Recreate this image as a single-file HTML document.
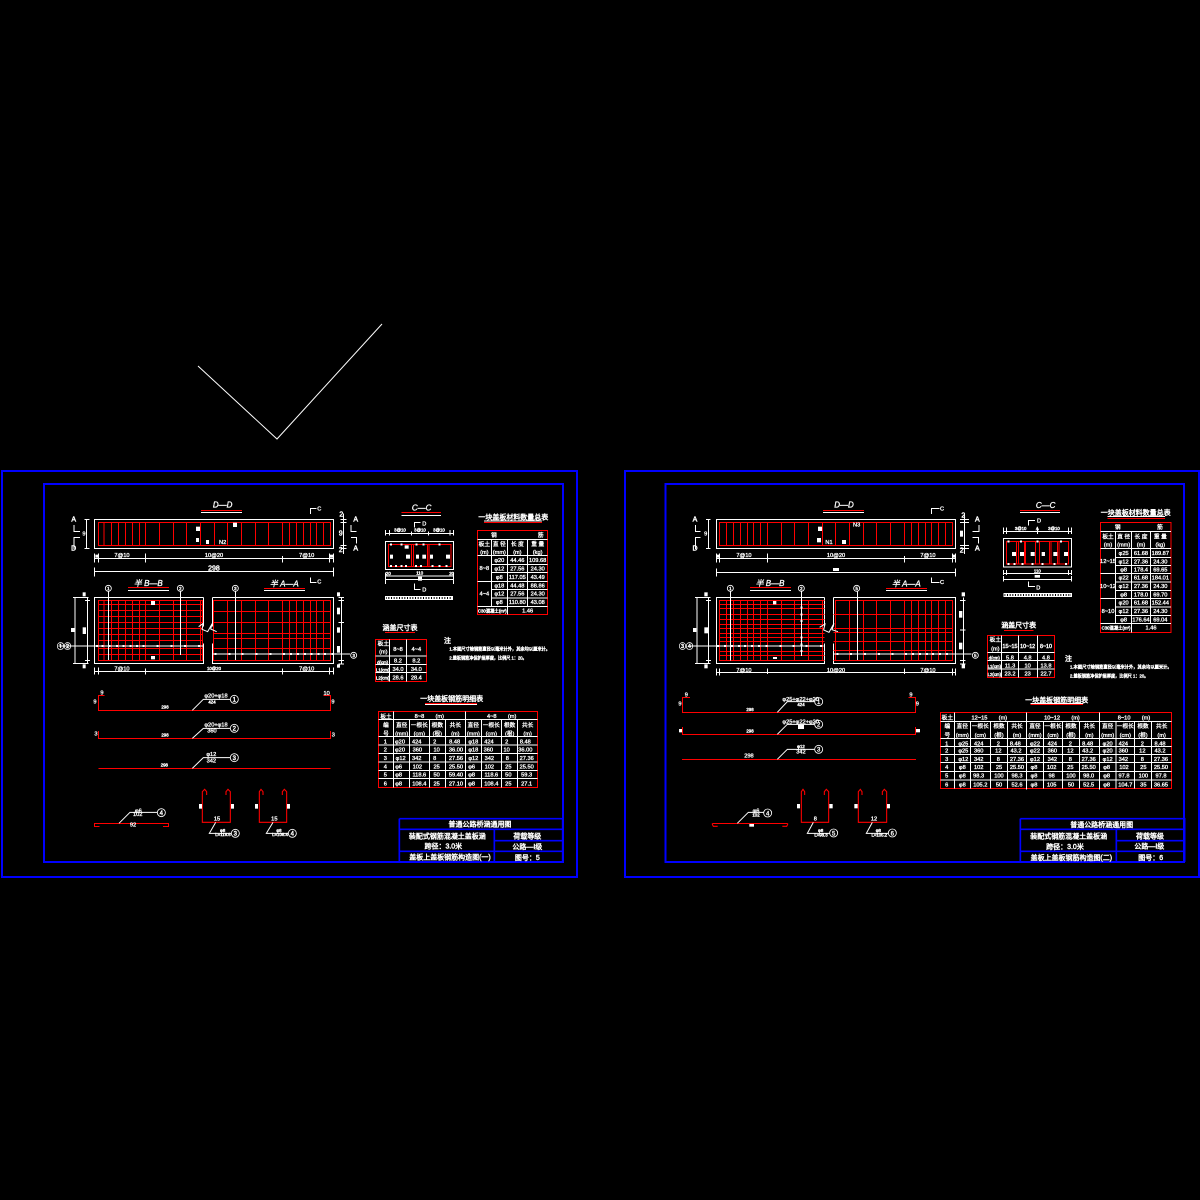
<!DOCTYPE html>
<html><head><meta charset="utf-8"><style>
html,body{margin:0;background:#000}
svg{display:block}
text{fill:#fff;stroke:#fff;stroke-width:.9;text-anchor:middle;font-family:"Liberation Sans","Noto Sans CJK SC",sans-serif;font-size:17px}
.s{font-size:13px;stroke-width:1.2}
.h{font-size:21px;stroke-width:1.3}
.i{font-style:italic;font-size:24px;font-family:"Liberation Sans",sans-serif}
.l{text-anchor:start}
.n{font-size:13px;stroke-width:1.3}
.w,.r{fill:none;shape-rendering:crispEdges;vector-effect:non-scaling-stroke;stroke-width:1}
.w{stroke:#fff}
.r{stroke:#f00}
.a{fill:none;stroke:#fff;stroke-width:3}
.p{fill:none;stroke:#f00;stroke-width:3.2}
.c{fill:#000;stroke:#fff;stroke-width:2.6}
</style></head><body>
<svg width="1200" height="1200" viewBox="0 0 1200 1200" xmlns="http://www.w3.org/2000/svg">
<rect width="1200" height="1200" fill="#000"/>
<path d="M198 366L277 439L382 324" fill="none" stroke="#fff" stroke-width="1"/>
<g fill="none" stroke="#00f" stroke-width="2" shape-rendering="crispEdges">
<rect x="2" y="471" width="575" height="406"/><rect x="44" y="484" width="519" height="378"/>
<rect x="625" y="471" width="574" height="406"/><rect x="665.5" y="484" width="518.5" height="378"/>
</g>

<!-- LEFT drawings -->
<g transform="translate(40 480) scale(.33333)">
<text class="i" x="548" y="83">D—D</text><path class="r" d="M483 91H606"/><path class="w" d="M483 97H606"/>
<path class="w" d="M811 102V86H830M811 292V308H830M102 135V155H120M102 207V172H120M950 155H933V135M933 172H950V190"/>
<text x="838" y="92">C</text><text x="838" y="310">C</text><text x="101" y="124" class="h">A</text><text x="101" y="212" class="h">D</text><text x="947" y="124" class="h">A</text><text x="947" y="212" class="h">A</text>
<rect class="w" x="163" y="118" width="718" height="88"/>
<path class="r" d="M175 127H872V196H175ZM192 127V196M214 127V196M235 127V196M256 127V196M277 127V196M298 127V196M316 127V196M358 127V196M400 127V196M439 127V196M481 127V196M523 127V196M562 127V196M604 127V196M646 127V196M685 127V196M727 127V196M748 127V196M769 127V196M790 127V196M811 127V196M829 127V196M850 127V196"/>
<rect x="468" y="140" width="12" height="13" fill="#fff"/><rect x="468" y="174" width="9" height="12" fill="#fff"/><rect x="579" y="128" width="12" height="13" fill="#fff"/><rect x="498" y="180" width="9" height="12" fill="#fff"/><text x="548" y="192">N2</text>
<path class="w" d="M140 118V206M133 118H148M133 206H148M910 100V222M902 118H920M902 127H920M902 196H920M902 206H920"/>
<text x="132" y="167">9</text><text x="904" y="110" class="h">2</text><text x="902" y="166" class="h">9</text><text x="902" y="216" class="h">2</text>
<path class="w" d="M163 235H881M163 220V248M175 220V248M316 220V248M727 228V248M869 220V248M881 220V248M163 274H881M163 263V290M881 263V290"/>
<text x="246" y="231">7@10</text><text x="522" y="231">10@20</text><text x="800" y="231">7@10</text><text x="522" y="271" class="h">298</text><rect x="166" y="224" width="10" height="9" fill="#fff"/><rect x="870" y="224" width="10" height="9" fill="#fff"/>
<text class="i" x="325" y="318">半 B—B</text><path class="r" d="M264 322H387"/><path class="w" d="M264 331H387"/>
<text class="i" x="733" y="319">半 A—A</text><path class="r" d="M672 325H795"/><path class="w" d="M672 331H795"/>
<path class="w" d="M491 352H163V550H491V490M491 352V440M517 352H881V550H517V490M517 352V440"/>
<path class="r" d="M487 361H175V541H487ZM192 361V541M214 361V541M235 361V541M256 361V541M277 361V541M298 361V541M316 361V541M358 361V541M400 361V541M439 361V541M481 361V541M175 373H487M175 391H487M175 409H487M175 427H487M175 445H487M175 463H487M175 481H487M175 505H487M175 523H487"/>
<path class="r" d="M521 361H872V541H521ZM562 361V541M604 361V541M646 361V541M685 361V541M727 361V541M748 361V541M769 361V541M790 361V541M811 361V541M829 361V541M850 361V541M521 394H872M521 427H872M521 460H872M521 475H872M521 505H872"/>
<path class="a" d="M476 440L490 430L486 448L503 455L517 430L512 447L530 455"/>
<path class="w" d="M55 498H490M517 522H930M205 330V540M421 330V525M586 330V540"/>
<path d="M168 498h6M185 498h6M206 498h6M228 498h6M248 498h6M269 498h6M288 498h6M308 498h6M350 498h6M392 498h6M432 498h6M474 498h6M524 522h6M566 522h6M605 522h6M647 522h6M689 522h6M729 522h6M750 522h6M771 522h6M792 522h6M812 522h6M832 522h6M852 522h6M874 522h6" stroke="#fff" stroke-width="7" fill="none" shape-rendering="crispEdges"/>
<circle class="c" cx="205" cy="325" r="9"/><circle class="c" cx="421" cy="325" r="9"/><circle class="c" cx="586" cy="325" r="9"/><circle class="c" cx="941" cy="526" r="9"/>
<text x="205" y="330" class="s">1</text><text x="421" y="330" class="s">2</text><text x="586" y="330" class="s">3</text><text x="941" y="531" class="s">3</text>
<text x="72" y="506" class="h">①②</text>
<rect x="333" y="363" width="12" height="12" fill="#fff"/><rect x="333" y="528" width="12" height="10" fill="#fff"/><rect x="93" y="444" width="13" height="12" fill="#fff"/><rect x="128" y="442" width="10" height="20" fill="#fff"/>
<path class="w" d="M105 352V550M99 352H145M99 550H145M142 352V550M135 361H150M135 541H150M904 352V552M896 352H912M896 361H912M896 427H912M896 541H912M896 552H912"/>
<rect x="128" y="337" width="9" height="12" fill="#fff"/><rect x="128" y="553" width="9" height="12" fill="#fff"/><rect x="891" y="337" width="9" height="12" fill="#fff"/><rect x="891" y="383" width="9" height="20" fill="#fff"/><rect x="891" y="442" width="9" height="16" fill="#fff"/><rect x="891" y="498" width="9" height="20" fill="#fff"/><rect x="891" y="553" width="9" height="10" fill="#fff"/>
<path class="w" d="M163 574H881M163 562V584M175 562V584M316 565V584M727 565V584M869 562V584M881 562V584"/>
<text x="246" y="572">7@10</text><text x="522" y="570" class="s">10@20</text><text x="800" y="572">7@10</text>
</g>
<g transform="translate(370 490) scale(.33333)">
<text class="i" x="155" y="61">C—C</text><path class="r" d="M94 67H213"/><path class="w" d="M94 76H213"/>
<path class="w" d="M133 113V97H152M133 280V298H152"/><text x="163" y="107">D</text><text x="163" y="304">D</text>
<path class="w" d="M46 130H251M46 120V137M58 120V137M124 125V137M175 125V137M240 120V137M251 120V137"/><text x="90" y="125" class="s">3@10</text><text x="150" y="125" class="s">3@10</text><text x="207" y="125" class="s">3@10</text>
<rect class="w" x="46" y="154" width="205" height="84"/>
<path class="r" d="M55 163H243V230H55ZM125 163V230M130 163V230M172 163V230M177 163V230"/>
<path d="M60 163h6M92 163h6M136 163h6M158 163h6M205 163h6M60 228h6M75 228h6M92 228h6M105 228h6M135 228h6M150 228h6M185 228h6M205 228h6M226 228h6" stroke="#fff" stroke-width="6" fill="none" shape-rendering="crispEdges"/>
<rect x="60" y="194" width="9" height="12" fill="#fff"/><rect x="108" y="194" width="12" height="12" fill="#fff"/><rect x="138" y="194" width="9" height="12" fill="#fff"/><rect x="157" y="194" width="11" height="12" fill="#fff"/><rect x="180" y="194" width="9" height="12" fill="#fff"/><rect x="228" y="194" width="12" height="12" fill="#fff"/><rect x="104" y="166" width="12" height="10" fill="#fff"/>
<path class="w" d="M46 258H251M46 248V282M251 248V282M46 269H251"/><text x="149" y="254" class="s">110</text><rect x="144" y="260" width="12" height="12" fill="#fff"/><text x="55" y="255" class="s">20</text><text x="245" y="255" class="s">20</text>
<rect class="w" x="46" y="319" width="202" height="10"/><path d="M50 324H246" stroke="#fff" stroke-width="10" stroke-dasharray="5 3" fill="none"/>
<text x="430" y="88" class="h">一块盖板材料数量总表</text><path class="r" d="M342 98H516"/><path class="w" d="M342 93H516"/>
<path class="r" d="M322 121H533V374H322Z"/>
<path class="w" d="M322 148H533M322 197H533M364 223H533M364 248H533M322 274H533M364 299H533M364 324H533M322 349H533M364 148V349M412 148V374M473 148V349"/>
<text x="372" y="141">钢</text><text x="512" y="141">筋</text>
<text x="343" y="168">板土</text><text x="388" y="168">直 径</text><text x="442" y="168">长 度</text><text x="503" y="168">重 量</text>
<text x="343" y="192">(m)</text><text x="388" y="192">(mm)</text><text x="442" y="192">(m)</text><text x="503" y="192">(kg)</text>
<text x="343" y="240">8~8</text><text x="343" y="316">4~4</text>
<text x="388" y="216">φ20</text><text x="442" y="216">44.46</text><text x="503" y="216">109.68</text>
<text x="388" y="241">φ12</text><text x="442" y="241">27.56</text><text x="503" y="241">24.30</text>
<text x="388" y="267">φ8</text><text x="442" y="267">117.05</text><text x="503" y="267">43.49</text>
<text x="388" y="292">φ18</text><text x="442" y="292">44.48</text><text x="503" y="292">88.86</text>
<text x="388" y="317">φ12</text><text x="442" y="317">27.56</text><text x="503" y="317">24.30</text>
<text x="388" y="342">φ8</text><text x="442" y="342">110.80</text><text x="503" y="342">43.08</text>
<text x="367" y="367" class="s">C30混凝土(m³)</text><text x="473" y="367">1.46</text>
<text x="90" y="420" class="h">涵盖尺寸表</text><path class="r" d="M45 428H135"/>
<path class="r" d="M16 448H170V575H16Z"/><path class="w" d="M16 498H170M16 523H170M16 548H170M59 448V575M109 448V575"/>
<text x="40" y="466">板土</text><text x="40" y="491">(m)</text><text x="84" y="483">8~8</text><text x="139" y="483">4~4</text>
<text x="38" y="522" class="s">d(cm)</text><text x="84" y="518">8.2</text><text x="139" y="518">8.2</text>
<text x="38" y="545" class="s">L1(cm)</text><text x="84" y="543">34.0</text><text x="139" y="543">34.0</text>
<text x="38" y="569" class="s">L2(cm)</text><text x="84" y="568">28.6</text><text x="139" y="568">28.4</text>
<text class="l h" x="222" y="459">注</text>
<text class="l n" x="238" y="481" textLength="302" lengthAdjust="spacingAndGlyphs">1.本图尺寸除钢筋直径以毫米计外，其余均以厘米计。</text>
<text class="l n" x="238" y="508" textLength="232" lengthAdjust="spacingAndGlyphs">2.盖板钢筋净保护层厚度，比例尺 1：20。</text>
</g>
<g transform="translate(40 680) scale(.33333)">
<path class="r" d="M193 46H175V91H872V46H850M175 153V175H872V153M175 265H872M179 439H163V430H385V439H369"/>
<path class="p" d="M500 345V335L494 328L487 335V427H571V335L564 328L558 335V345M669 345V335L663 328L658 335V427H740V335L733 328L727 335V345"/>
<path class="a" d="M457 91L490 58H570M457 175L490 145H570M457 265L490 233H570M237 430L270 397H352M527 427L508 460H574M699 427L679 460H745"/>
<circle class="c" cx="583" cy="58" r="12"/><circle class="c" cx="583" cy="145" r="12"/><circle class="c" cx="583" cy="233" r="12"/><circle class="c" cx="364" cy="398" r="12"/><circle class="c" cx="586" cy="460" r="12"/><circle class="c" cx="757" cy="460" r="12"/>
<text x="583" y="65" class="s" style="font-size:18px">1</text><text x="583" y="152" class="s" style="font-size:18px">2</text><text x="583" y="240" class="s" style="font-size:18px">3</text><text x="364" y="405" class="s" style="font-size:18px">4</text><text x="586" y="467" class="s" style="font-size:18px">3</text><text x="757" y="467" class="s" style="font-size:18px">4</text>
<text x="528" y="53">φ20+φ18</text><text x="516" y="71" class="s">424</text><text x="528" y="140">φ20+φ18</text><text x="516" y="157">360</text><text x="514" y="228">φ12</text><text x="514" y="247">342</text>
<text x="375" y="86" class="s">298</text><text x="375" y="170" class="s">298</text><text x="373" y="260" class="s">298</text>
<text x="186" y="43">9</text><text x="165" y="71">9</text><text x="860" y="45">10</text><text x="879" y="71">9</text><text x="168" y="166">3</text><text x="880" y="169">3</text>
<text x="295" y="398">φ6</text><text x="293" y="408">102</text><text x="279" y="440">92</text>
<rect x="477" y="372" width="9" height="14" fill="#fff"/><rect x="573" y="372" width="9" height="14" fill="#fff"/><rect x="645" y="372" width="9" height="14" fill="#fff"/><rect x="741" y="372" width="9" height="14" fill="#fff"/>
<text x="531" y="422">15</text><text x="703" y="422">15</text><text x="548" y="456" class="s">φ8</text><text x="549" y="468" class="s">L=118.6</text><text x="717" y="456" class="s">φ8</text><text x="720" y="468" class="s">L=108.4</text>
</g>
<g transform="translate(370 690) scale(.33333)">
<text x="245" y="33" class="h">一块盖板钢筋明细表</text><path class="r" d="M165 40H321"/><path class="w" d="M165 44H321"/>
<path class="r" d="M25 65H503V293H25Z"/>
<path class="w" d="M25 88H503M25 140H503M25 165H503M25 191H503M25 216H503M25 241H503M25 266H503M71 65V293M287 65V293M119 88V293M178 88V293M226 88V293M334 88V293M395 88V293M443 88V293"/>
<text x="48" y="85">板土</text><text x="178" y="84">8~8　　(m)</text><text x="395" y="84">4~8　　(m)</text>
<text x="48" y="111">编</text><text x="48" y="136">号</text>
<text x="95" y="111">直径</text><text x="148" y="111">一根长</text><text x="202" y="111">根数</text><text x="256" y="111">共长</text><text x="310" y="111">直径</text><text x="364" y="111">一根长</text><text x="419" y="111">根数</text><text x="473" y="111">共长</text>
<text x="95" y="136">(mm)</text><text x="148" y="136">(cm)</text><text x="202" y="136">(根)</text><text x="256" y="136">(m)</text><text x="310" y="136">(mm)</text><text x="364" y="136">(cm)</text><text x="419" y="136">(根)</text><text x="473" y="136">(m)</text>
<text x="46" y="160">1</text><text x="90" y="160">φ20</text><text x="140" y="160">424</text><text x="194" y="160">2</text><text x="254" y="160">8.48</text><text x="310" y="160">φ18</text><text x="357" y="160">424</text><text x="410" y="160">2</text><text x="466" y="160">8.48</text>
<text x="46" y="185">2</text><text x="90" y="185">φ20</text><text x="142" y="185">360</text><text x="200" y="185">10</text><text x="258" y="185">36.00</text><text x="310" y="185">φ18</text><text x="355" y="185">360</text><text x="410" y="185">10</text><text x="466" y="185">36.00</text>
<text x="46" y="210">3</text><text x="92" y="210">φ12</text><text x="140" y="210">342</text><text x="194" y="210">8</text><text x="258" y="210">27.56</text><text x="310" y="210">φ12</text><text x="358" y="210">342</text><text x="412" y="210">8</text><text x="470" y="210">27.36</text>
<text x="46" y="235">4</text><text x="86" y="235">φ6</text><text x="142" y="235">102</text><text x="200" y="235">25</text><text x="258" y="235">25.50</text><text x="305" y="235">φ6</text><text x="358" y="235">102</text><text x="415" y="235">25</text><text x="470" y="235">25.50</text>
<text x="46" y="260">5</text><text x="86" y="260">φ8</text><text x="148" y="260">118.6</text><text x="200" y="260">50</text><text x="258" y="260">59.40</text><text x="305" y="260">φ8</text><text x="364" y="260">118.6</text><text x="415" y="260">50</text><text x="470" y="260">59.3</text>
<text x="46" y="286">6</text><text x="86" y="286">φ8</text><text x="148" y="286">108.4</text><text x="200" y="286">25</text><text x="258" y="286">27.10</text><text x="305" y="286">φ8</text><text x="364" y="286">108.4</text><text x="415" y="286">25</text><text x="470" y="286">27.1</text>
<path d="M88 386H578V516M88 386V516M88 418H578M88 484H578M373 418V516M373 452H578" fill="none" stroke="#00f" stroke-width="5"/>
<text x="330" y="410" class="h">普通公路桥涵通用图</text><text x="232" y="445" class="h">装配式钢筋混凝土盖板涵</text><text x="472" y="445" class="h">荷载等级</text>
<text x="220" y="476" class="h">跨径：3.0米</text><text x="472" y="477" class="h">公路—I级</text><text x="240" y="509" class="h">盖板上盖板钢筋构造图(一)</text><text x="472" y="510" class="h">图号：5</text>
</g>

<!-- RIGHT drawings -->
<g transform="translate(660 480) scale(.33333)">
<text class="i" x="552" y="83">D—D</text><path class="r" d="M489 91H612"/><path class="w" d="M489 97H612"/>
<path class="w" d="M814 102V86H838M814 292V308H838M106 135V155H122M106 207V172H122M957 135V155H937M937 172H955V190"/>
<text x="846" y="92">C</text><text x="846" y="312">C</text><text x="105" y="124" class="h">A</text><text x="105" y="212" class="h">D</text><text x="952" y="124" class="h">A</text><text x="952" y="212" class="h">A</text>
<rect class="w" x="169" y="118" width="718" height="88"/>
<path class="r" d="M178 127H878V196H178ZM199 127V196M220 127V196M241 127V196M262 127V196M280 127V196M301 127V196M322 127V196M364 127V196M403 127V196M445 127V196M487 127V196M526 127V196M568 127V196M610 127V196M649 127V196M691 127V196M733 127V196M754 127V196M775 127V196M796 127V196M814 127V196M835 127V196M856 127V196"/>
<rect x="474" y="140" width="12" height="13" fill="#fff"/><rect x="471" y="174" width="12" height="13" fill="#fff"/><text x="590" y="140">N3</text><text x="507" y="192">N1</text><rect x="546" y="180" width="12" height="12" fill="#fff"/>
<path class="w" d="M146 118V206M138 118H152M138 206H152M913 100V222M900 118H927M900 127H927M900 196H927M900 206H927"/>
<text x="137" y="167">9</text><text x="910" y="113" class="h">2</text><rect x="900" y="152" width="9" height="18" fill="#fff"/><text x="905" y="218" class="h">2</text>
<path class="w" d="M169 235H887M169 220V248M178 220V248M322 220V248M733 228V248M878 220V248M887 220V248M169 277H887M169 266V290M887 266V290"/>
<text x="252" y="231">7@10</text><text x="528" y="231">10@20</text><text x="804" y="231">7@10</text><rect x="519" y="264" width="18" height="9" fill="#fff"/><rect x="171" y="224" width="8" height="9" fill="#fff"/><rect x="878" y="224" width="8" height="9" fill="#fff"/>
<text class="i" x="330" y="318">半 B—B</text><path class="r" d="M270 322H393"/><path class="w" d="M270 331H393"/>
<text class="i" x="739" y="319">半 A—A</text><path class="r" d="M678 325H801"/><path class="w" d="M678 331H801"/>
<path class="w" d="M494 352H169V550H494V490M494 352V440M520 352H887V550H520V490M520 352V440"/>
<path class="r" d="M494 361H178V541H494M199 361V541M220 361V541M241 361V541M262 361V541M280 361V541M301 361V541M322 361V541M364 361V541M403 361V541M445 361V541M487 361V541M178 373H494M178 385H494M178 403H494M178 418H494M178 433H494M178 445H494M178 460H494M178 472H494M178 484H494M178 514H494M178 526H494"/>
<path class="r" d="M526 361H878V541H526ZM568 361V541M610 361V541M649 361V541M691 361V541M733 361V541M754 361V541M775 361V541M796 361V541M814 361V541M835 361V541M856 361V541M520 403H878M520 445H878M520 457H878M520 484H878M520 511H878M520 541H878"/>
<path class="a" d="M479 442L495 432L491 450L507 457L522 430L516 449L534 455"/>
<path class="w" d="M90 498H490M520 522H935M211 330V542M424 330V528M592 330V540"/>
<path d="M171 498h6M192 498h6M213 498h6M234 498h6M252 498h6M273 498h6M294 498h6M316 498h6M358 498h6M397 498h6M437 498h6M480 498h6M530 522h6M570 522h6M612 522h6M654 522h6M695 522h6M735 522h6M756 522h6M777 522h6M798 522h6M816 522h6M837 522h6M858 522h6M424 380v6M424 400v6M424 420v6M424 470v6M424 490v6M424 510v6" stroke="#fff" stroke-width="6" fill="none" shape-rendering="crispEdges"/>
<circle class="c" cx="211" cy="325" r="9"/><circle class="c" cx="424" cy="325" r="9"/><circle class="c" cx="590" cy="325" r="9"/><circle class="c" cx="946" cy="526" r="9"/>
<text x="211" y="330" class="s">1</text><text x="424" y="330" class="s">2</text><text x="590" y="330" class="s">5</text><text x="946" y="531" class="s">5</text>
<text x="78" y="506" class="h">③④</text>
<rect x="339" y="363" width="10" height="10" fill="#fff"/><rect x="339" y="531" width="12" height="6" fill="#fff"/><rect x="99" y="444" width="10" height="12" fill="#fff"/><rect x="133" y="442" width="12" height="18" fill="#fff"/>
<path class="w" d="M111 352V550M105 352H152M105 550H152M146 352V550M138 361H153M138 541H153M910 352V552M900 361H916M900 450H916M900 541H916M900 552H916"/>
<rect x="133" y="337" width="10" height="12" fill="#fff"/><rect x="133" y="553" width="10" height="12" fill="#fff"/><rect x="905" y="337" width="10" height="12" fill="#fff"/><rect x="897" y="393" width="10" height="20" fill="#fff"/><rect x="897" y="488" width="10" height="20" fill="#fff"/><rect x="905" y="553" width="10" height="12" fill="#fff"/>
<path class="w" d="M169 577H887M169 565V586M178 565V586M322 565V582M733 565V582M878 565V586M887 565V586"/>
<text x="252" y="576">7@10</text><text x="528" y="576">10@20</text><text x="804" y="576">7@10</text>
</g>
<g transform="translate(980 490) scale(.33333)">
<text class="i" x="197" y="54">C—C</text><path class="r" d="M120 61H240"/><path class="w" d="M120 67H240"/>
<path class="w" d="M145 107V91H165M145 274V290H165"/><text x="177" y="98">D</text><text x="175" y="298">D</text>
<path class="w" d="M70 124H275M70 112V132M80 112V132M172 112V132M265 112V132M275 112V132"/><text x="122" y="120" class="s">3@10</text><text x="172" y="120" class="s">A</text><text x="222" y="120" class="s">3@10</text>
<rect class="w" x="70" y="145" width="205" height="86"/>
<path class="r" d="M79 154H266V222H79ZM110 154V222M115 154V222M133 154V222M137 154V222M166 154V222M178 154V222M208 154V222M213 154V222M232 154V222M237 154V222"/>
<path d="M82 154h6M120 154h6M170 154h6M240 154h6M82 222h6M100 222h6M124 222h6M154 222h6M185 222h6M220 222h6M255 222h6" stroke="#fff" stroke-width="6" fill="none" shape-rendering="crispEdges"/>
<rect x="96" y="186" width="12" height="12" fill="#fff"/><rect x="120" y="186" width="12" height="12" fill="#fff"/><rect x="152" y="186" width="12" height="12" fill="#fff"/><rect x="185" y="186" width="10" height="12" fill="#fff"/><rect x="220" y="186" width="12" height="12" fill="#fff"/><rect x="252" y="186" width="12" height="12" fill="#fff"/>
<path class="w" d="M70 250H275M70 240V255M80 240V255M265 240V255M275 240V255M70 268H275M70 258V275M275 258V275"/><text x="172" y="247" class="s">110</text><rect x="164" y="255" width="16" height="8" fill="#fff"/>
<rect class="w" x="72" y="310" width="203" height="10"/><path d="M76 315H272" stroke="#fff" stroke-width="10" stroke-dasharray="5 3" fill="none"/>
<text x="467" y="75" class="h">一块盖板材料数量总表</text><path class="r" d="M382 85H555"/><path class="w" d="M382 80H555"/>
<path class="r" d="M361 97H573V428H361Z"/>
<path class="w" d="M361 124H573M361 176H573M407 202H573M407 227H573M361 251H573M407 276H573M407 301H573M361 326H573M407 351H573M407 376H573M361 401H573M407 124V401M455 124V428M511 124V401"/>
<text x="413" y="117">钢</text><text x="540" y="117">筋</text>
<text x="384" y="145">板土</text><text x="431" y="145">直 径</text><text x="483" y="145">长 度</text><text x="541" y="145">重 量</text>
<text x="384" y="170">(m)</text><text x="431" y="170">(mm)</text><text x="483" y="170">(m)</text><text x="541" y="170">(kg)</text>
<text x="384" y="219">12~15</text><text x="384" y="294">10~12</text><text x="384" y="369">8~10</text>
<text x="431" y="195">φ25</text><text x="483" y="195">61.68</text><text x="541" y="195">189.87</text>
<text x="431" y="220">φ12</text><text x="483" y="220">27.36</text><text x="541" y="220">24.30</text>
<text x="431" y="245">φ8</text><text x="483" y="245">178.4</text><text x="541" y="245">69.65</text>
<text x="431" y="269">φ22</text><text x="483" y="269">61.68</text><text x="541" y="269">184.01</text>
<text x="431" y="294">φ12</text><text x="483" y="294">27.36</text><text x="541" y="294">24.30</text>
<text x="431" y="319">φ8</text><text x="483" y="319">178.0</text><text x="541" y="319">69.70</text>
<text x="431" y="344">φ20</text><text x="483" y="344">61.68</text><text x="541" y="344">152.44</text>
<text x="431" y="369">φ12</text><text x="483" y="369">27.36</text><text x="541" y="369">24.30</text>
<text x="431" y="394">φ8</text><text x="483" y="394">176.64</text><text x="541" y="394">69.04</text>
<text x="408" y="419" class="s">C30混凝土(m³)</text><text x="513" y="419">1.46</text>
<text x="116" y="413" class="h">涵盖尺寸表</text><path class="r" d="M72 422H160"/>
<path class="r" d="M22 436H224V563H22Z"/><path class="w" d="M22 488H224M22 512H224M22 537H224M64 436V563M115 436V563M172 436V563"/>
<text x="46" y="455">板土</text><text x="46" y="482">(m)</text><text x="90" y="474" class="s" style="font-size:16px">15~15</text><text x="143" y="474" class="s" style="font-size:16px">10~12</text><text x="198" y="474" class="s" style="font-size:16px">8~10</text>
<text x="43" y="509" class="s">d(cm)</text><text x="90" y="508">5.8</text><text x="143" y="508">4.8</text><text x="198" y="508">4.8</text>
<text x="43" y="534" class="s">L1(cm)</text><text x="90" y="532">11.3</text><text x="143" y="532">10</text><text x="198" y="532">13.8</text>
<text x="43" y="558" class="s">L2(cm)</text><text x="90" y="556">23.2</text><text x="143" y="556">23</text><text x="198" y="556">22.7</text>
<text class="l h" x="255" y="513">注</text>
<text class="l n" x="270" y="535" textLength="305" lengthAdjust="spacingAndGlyphs">1.本图尺寸除钢筋直径以毫米计外，其余均以厘米计。</text>
<text class="l n" x="270" y="562" textLength="235" lengthAdjust="spacingAndGlyphs">2.盖板钢筋净保护层厚度，比例尺 1：20。</text>
</g>
<g transform="translate(660 680) scale(.33333)">
<path class="r" d="M90 52H67V97H767V52H745M67 141V163H767V141M157 430H383M66 238H768"/>
<path class="p" d="M173 439H160L157 433V430M383 430V433L380 439H367M434 345V335L429 328L424 335V427H506V335L499 328L493 335V345M606 345V335L601 328L595 335V427H680V335L673 328L667 335V345"/>
<path class="a" d="M352 97L382 65H463M352 163L382 133H463M352 238L382 208H463M232 430L265 397H311M460 427L442 460H509M637 427L619 460H685"/>
<circle class="c" cx="476" cy="65" r="12"/><circle class="c" cx="476" cy="133" r="12"/><circle class="c" cx="476" cy="208" r="12"/><circle class="c" cx="323" cy="399" r="12"/><circle class="c" cx="521" cy="459" r="12"/><circle class="c" cx="697" cy="459" r="12"/>
<text x="476" y="72" style="font-size:18px">1</text><text x="476" y="140" style="font-size:18px">2</text><text x="476" y="215" style="font-size:18px">3</text><text x="323" y="406" style="font-size:18px">4</text><text x="521" y="466" style="font-size:18px">5</text><text x="697" y="466" style="font-size:18px">6</text>
<text x="422" y="63">φ25+φ22+φ20</text><text x="423" y="78" class="s">424</text><text x="422" y="131">φ25+φ22+φ20</text><rect x="414" y="134" width="18" height="13" fill="#fff"/><text x="423" y="204" class="s">φ12</text><text x="423" y="220">342</text>
<text x="270" y="93" class="s">298</text><text x="270" y="158" class="s">298</text><text x="267" y="233">298</text>
<text x="79" y="49">9</text><text x="60" y="77">9</text><text x="753" y="50">9</text><text x="772" y="77">9</text><rect x="57" y="147" width="9" height="10" fill="#fff"/><rect x="768" y="147" width="12" height="10" fill="#fff"/>
<text x="288" y="398">φ6</text><text x="288" y="410" class="s">102</text><rect x="268" y="432" width="14" height="8" fill="#fff"/>
<rect x="411" y="372" width="9" height="13" fill="#fff"/><rect x="508" y="372" width="10" height="13" fill="#fff"/><rect x="583" y="372" width="10" height="13" fill="#fff"/><rect x="681" y="372" width="9" height="13" fill="#fff"/>
<text x="466" y="422">8</text><text x="642" y="422">12</text><text x="482" y="456" class="s">φ8</text><text x="483" y="470" class="s">L=98.3</text><text x="655" y="456" class="s">φ8</text><text x="658" y="470" class="s">L=105.2</text>
</g>
<g transform="translate(930 690) scale(.33333)">
<text x="380" y="37" class="h">一块盖板钢筋明细表</text><path class="r" d="M302 44H459"/><path class="w" d="M302 40H459"/>
<path class="r" d="M31 67H725V296H31Z"/>
<path class="w" d="M31 94H725M31 146H725M31 170H725M31 194H725M31 218H725M31 244H725M31 270H725M73 67V296M290 67V298M508 67V298M122 94V296M181 94V296M233 94V296M340 94V296M398 94V296M449 94V296M558 94V296M614 94V296M665 94V296"/>
<text x="52" y="88">板土</text><text x="178" y="88">12~15　　(m)</text><text x="396" y="88">10~12　　(m)</text><text x="612" y="88">8~10　　(m)</text>
<text x="52" y="114">编</text><text x="52" y="141">号</text>
<text x="97" y="114">直径</text><text x="151" y="114">一根长</text><text x="207" y="114">根数</text><text x="261" y="114">共长</text><text x="315" y="114">直径</text><text x="369" y="114">一根长</text><text x="423" y="114">根数</text><text x="478" y="114">共长</text><text x="533" y="114">直径</text><text x="586" y="114">一根长</text><text x="639" y="114">根数</text><text x="695" y="114">共长</text>
<text x="97" y="141">(mm)</text><text x="151" y="141">(cm)</text><text x="207" y="141">(根)</text><text x="261" y="141">(m)</text><text x="315" y="141">(mm)</text><text x="369" y="141">(cm)</text><text x="423" y="141">(根)</text><text x="478" y="141">(m)</text><text x="533" y="141">(mm)</text><text x="586" y="141">(cm)</text><text x="639" y="141">(根)</text><text x="695" y="141">(m)</text>
<text x="50" y="166">1</text><text x="100" y="166">φ25</text><text x="146" y="166">424</text><text x="205" y="166">2</text><text x="256" y="166">8.48</text><text x="315" y="166">φ22</text><text x="367" y="166">424</text><text x="421" y="166">2</text><text x="473" y="166">8.48</text><text x="533" y="166">φ20</text><text x="580" y="166">424</text><text x="637" y="166">2</text><text x="690" y="166">8.48</text>
<text x="50" y="188">2</text><text x="100" y="188">φ25</text><text x="146" y="188">360</text><text x="205" y="188">12</text><text x="258" y="188">43.2</text><text x="315" y="188">φ22</text><text x="367" y="188">360</text><text x="421" y="188">12</text><text x="473" y="188">43.2</text><text x="533" y="188">φ20</text><text x="580" y="188">360</text><text x="637" y="188">12</text><text x="690" y="188">43.2</text>
<text x="50" y="213">3</text><text x="100" y="213">φ12</text><text x="146" y="213">342</text><text x="205" y="213">8</text><text x="261" y="213">27.36</text><text x="315" y="213">φ12</text><text x="367" y="213">342</text><text x="421" y="213">8</text><text x="476" y="213">27.36</text><text x="533" y="213">φ12</text><text x="580" y="213">342</text><text x="637" y="213">8</text><text x="693" y="213">27.36</text>
<text x="50" y="237">4</text><text x="97" y="237">φ8</text><text x="146" y="237">102</text><text x="207" y="237">25</text><text x="261" y="237">25.50</text><text x="312" y="237">φ8</text><text x="365" y="237">102</text><text x="421" y="237">25</text><text x="476" y="237">25.50</text><text x="530" y="237">φ8</text><text x="582" y="237">102</text><text x="640" y="237">25</text><text x="693" y="237">25.50</text>
<text x="50" y="263">5</text><text x="97" y="263">φ8</text><text x="146" y="263">98.3</text><text x="207" y="263">100</text><text x="261" y="263">98.3</text><text x="312" y="263">φ8</text><text x="365" y="263">98</text><text x="423" y="263">100</text><text x="476" y="263">98.0</text><text x="530" y="263">φ8</text><text x="582" y="263">97.8</text><text x="640" y="263">100</text><text x="693" y="263">97.8</text>
<text x="50" y="289">6</text><text x="97" y="289">φ8</text><text x="151" y="289">105.2</text><text x="207" y="289">50</text><text x="261" y="289">52.6</text><text x="312" y="289">φ8</text><text x="365" y="289">105</text><text x="423" y="289">50</text><text x="476" y="289">52.5</text><text x="530" y="289">φ8</text><text x="586" y="289">104.7</text><text x="640" y="289">35</text><text x="693" y="289">36.65</text>
<path d="M271 386H764V516M271 386V516M271 418H764M271 484H764M559 418V516M559 452H764" fill="none" stroke="#00f" stroke-width="5"/>
<text x="515" y="411" class="h">普通公路桥涵通用图</text><text x="416" y="445" class="h">装配式钢筋混凝土盖板涵</text><text x="660" y="445" class="h">荷载等级</text>
<text x="405" y="477" class="h">跨径：3.0米</text><text x="658" y="476" class="h">公路—I级</text><text x="424" y="510" class="h">盖板上盖板钢筋构造图(二)</text><text x="662" y="510" class="h">图号：6</text>
</g>
</svg>
</body></html>
